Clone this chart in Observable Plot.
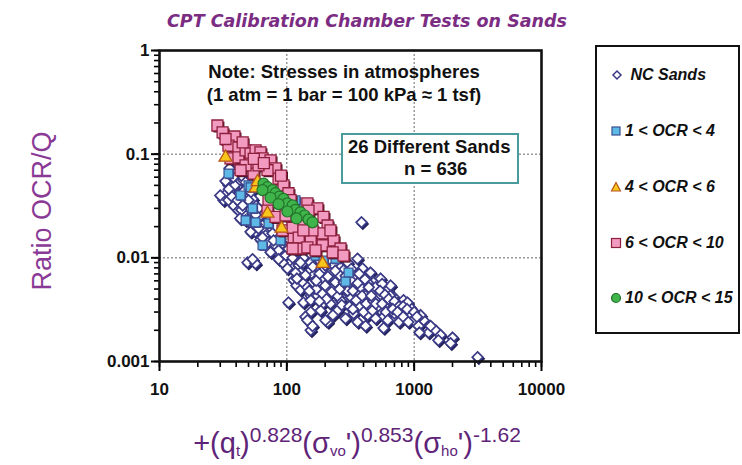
<!DOCTYPE html>
<html>
<head>
<meta charset="utf-8">
<script src="https://cdn.jsdelivr.net/npm/d3@7"></script>
<script src="https://cdn.jsdelivr.net/npm/@observablehq/plot@0.6"></script>
<style>
  body { margin: 0; background: #fff; }
  #wrap { position: relative; width: 742px; height: 465px; overflow: hidden; font-family: "Liberation Sans", Arial, sans-serif; }
  #chart { position: absolute; left: 0; top: 0; }
  .ov { position: absolute; white-space: nowrap; }
  #title { left: 367px; top: 11px; transform: translateX(-50%); font-family: "DejaVu Sans", sans-serif; font-style: italic; font-weight: 600; font-size: 17.5px; color: #7b2d83; letter-spacing: 0px; }
  #ylab { left: 42px; top: 211px; transform: translate(-50%, -50%) rotate(-90deg); font-size: 27px; color: #8a3a96; }
  #xlab { left: 357px; top: 415px; transform: translateX(-50%); font-size: 29px; color: #5e2478; line-height: 40px; }
  #xlab sup { font-size: 21px; vertical-align: 0.5em; }
  #xlab sub { font-size: 15px; vertical-align: -0.2em; }
  #note { left: 344px; top: 60px; transform: translateX(-50%); text-align: center; font-weight: bold; font-size: 18.5px; line-height: 23px; color: #111; }
  #box { left: 341px; top: 133px; width: 174px; height: 47px; border: 2px solid #4a9c9c; background: #fff; font-weight: bold; font-size: 18.5px; line-height: 22px; color: #111; }
  #legend { left: 595px; top: 45px; width: 141px; height: 285px; border: 2px solid #111; background: #fff; }
  .li { position: absolute; left: 16px; font-weight: bold; font-style: italic; font-size: 16px; color: #111; display: flex; align-items: center; }
  .li svg { margin-right: 3px; }
</style>
</head>
<body>
<div id="wrap">
  <div id="chart"></div>
</div>
<script>
// ---- data: [x, OCR/Q] ----
const ncSands = [
  [31.8,0.036],[33.6,0.042],[34.8,0.050],[36.1,0.058],[37.5,0.070],[39.5,0.062],[41.7,0.053],[43.3,0.045],
  [40.3,0.039],[38.1,0.032],[43.3,0.0335],[46.5,0.038],[48.2,0.047],[45.7,0.056],[50.0,0.040],[51.9,0.032],
  [49.1,0.0275],[45.7,0.0268],[53.8,0.0268],[56.8,0.032],[58.9,0.024],[47.4,0.023],[51.9,0.0215],[62.1,0.0256],
  [64.4,0.0205],[41.7,0.0286],[35.5,0.073],[38.8,0.047],[34.8,0.036],[36.1,0.045],[53.8,0.037],
  [33,0.055],[39,0.05],[42,0.041],[37,0.039],[44,0.029],[48,0.034],[55,0.028],[60,0.030],[40,0.066],[46,0.044],[52,0.043],
  [30,0.040],[35,0.046],[41,0.036],[45,0.032],[50,0.036],[57,0.026],[44,0.062],[38,0.060],[43,0.024],[58,0.021],
  [66,0.018],[62,0.015],[70,0.013],[75,0.016],[80,0.0125],[88,0.0108],[95,0.0125],
  [68.0,0.0164],[71.8,0.0141],[77.2,0.0172],[81.5,0.0132],[86.1,0.0118],[74.5,0.0113],[92.5,0.0138],[97.7,0.0105],
  [103,0.0122],[107,0.0090],[111,0.0079],[117,0.0098],[124,0.0084],[128,0.0072],[101,0.0079],[113,0.0061],
  [119,0.0054],[128,0.0049],[135,0.0057],[145,0.0052],[154,0.0043],[135,0.0037],[103,0.0037],[154,0.0030],
  [140,0.0027],[154,0.0020],[159,0.0022],[145,0.0025],[191,0.0036],[209,0.0024],[174,0.0043],
  [49.1,0.0090],[56.8,0.0088],[53.8,0.0097],
  [111,0.0100],[135,0.0090],[174,0.0079],[233,0.0084],[300,0.0090],[359,0.0098],[393,0.0079],[334,0.0068],
  [135,0.0100],[174,0.0098],[438,0.0065],[480,0.0058],[565,0.0051],[689,0.0042],[825,0.0039],[937,0.0033],
  [887,0.0028],[989,0.0025],[1185,0.0025],[1297,0.0019],[1472,0.0020],[2002,0.0017],[1931,0.0015],[3148,0.0011],
  [233,0.0065],[300,0.0057],[317,0.0042],[379,0.0034],[545,0.0031],[618,0.0036],[431,0.0049],[264,0.0039],
  [209,0.0049],[184,0.0057],[233,0.0052],[400,0.0039],[516,0.0042],[740,0.0036],[782,0.0031],[887,0.0037],
  [575,0.0027],[154,0.0076],[194,0.0076],[264,0.0081],[300,0.0071],[359,0.0065],[431,0.0058],[454,0.0034],
  [334,0.0029],[386,0.022],[154,0.0039],[201,0.0025],[184,0.0031],
  [289,0.0049],[359,0.0047],[480,0.0047],[545,0.0044],[618,0.0049],[689,0.0034],[653,0.0054],[545,0.0063],
  [454,0.0072],[289,0.0026],[359,0.0024],[415,0.0022],[575,0.0021],
  [128,0.0090],[154,0.0090],[162,0.0068],[194,0.0063],[220,0.0072],[250,0.0061],[279,0.0076],[317,0.0061],
  [346,0.0052],[393,0.0054],[415,0.0043],[498,0.0052],[596,0.0039],[653,0.0031],[715,0.0026],[498,0.0026],
  [431,0.0028],[220,0.0036],[250,0.0043],[168,0.0061],[140,0.0068],[117,0.0072],[92.5,0.0090],[86.1,0.0097],
  [78.6,0.0147],[64.4,0.0157],[56.8,0.0178],[59.9,0.0192],[51.9,0.0178],[1123,0.0028],[1082,0.0022],
  [1611,0.0018],[1346,0.0022],
  [200,0.0085],[260,0.0068],[300,0.0048],[350,0.0039],[420,0.0036],[480,0.0038],[520,0.0034],[600,0.0030],
  [700,0.0029],[760,0.0024],[850,0.0031],[650,0.0043],[560,0.0056],[250,0.0031],[190,0.0045],[230,0.0028],
  [120,0.0063],[170,0.0050],
  [160,0.0082],[180,0.0070],[210,0.0066],[240,0.0058],[170,0.0060],[200,0.0054],[225,0.0047],[260,0.0050],
  [280,0.0058],[240,0.0075],[205,0.0040],[270,0.0035],[180,0.0038],[150,0.0048],
  [320,0.0078],[370,0.0070],[410,0.0062],[330,0.0048],[380,0.0052],[440,0.0052],[310,0.0034],[390,0.0043],
  [460,0.0043],[330,0.0032],[400,0.0030],[470,0.0031],[500,0.0036],[360,0.0057],[290,0.0067],
  [540,0.0048],[590,0.0044],[630,0.0040],[700,0.0038],[760,0.0034],[820,0.0034],[880,0.0032],[560,0.0036],
  [680,0.0032],[740,0.0030],[820,0.0027],[620,0.0025],[900,0.0024],[1000,0.0030],[1050,0.0027],
  [1100,0.0019],[1550,0.0016]
];
const ocr1to4 = [
  [34.8,0.065],[50.0,0.050],[51.9,0.048],[53.8,0.030],[47.4,0.023],[56.8,0.022],[71.8,0.0215],[89.2,0.0147],
  [117,0.036],[168,0.0105],[194,0.0094],[305,0.0072],[289,0.0059],[64.4,0.0132],[128,0.0147],[43.3,0.040],[241,0.0098]
];
const ocr4to6 = [
  [33.0,0.093],[56.8,0.047],[58.9,0.054],[70.5,0.0268],[90.9,0.0192],[191,0.0088]
];
const ocr6to10 = [
  [28.5,0.189],[31.3,0.162],[38.8,0.148],[34.8,0.121],[41.7,0.116],[36.1,0.091],[41.7,0.093],[47.4,0.109],
  [51.9,0.102],[56.8,0.109],[62.1,0.104],[64.4,0.091],[74.5,0.087],[81.5,0.073],[86.1,0.058],[51.9,0.081],
  [54.8,0.065],[70.5,0.070],[47.4,0.078],[59.9,0.078],[43.3,0.070],[94.2,0.050],[103,0.042],[107,0.036],
  [145,0.0335],[174,0.030],[194,0.0248],[209,0.0205],[191,0.0172],[128,0.0205],[113,0.0157],[154,0.0147],
  [233,0.0147],[191,0.0132],[264,0.0123],[229,0.0113],[128,0.0123],[71.8,0.036],[70.5,0.0286],[81.5,0.0248],
  [92.5,0.0184],[111,0.0195],[124,0.0157],[145,0.0126],[111,0.0123],[148,0.0286],[159,0.0184],[97.7,0.0256],
  [279,0.0105],[168,0.0118],[135,0.0184],[121,0.0268],[220,0.0184],
  [33,0.14],[45,0.13],[55,0.09],[66,0.082],[90,0.062]
];
const ocr10to15 = [
  [65.6,0.052],[70.5,0.048],[77.2,0.045],[81.5,0.042],[87.6,0.039],[94.2,0.037],[101,0.0335],[111,0.032],
  [117,0.029],[128,0.0275],[138,0.0256],[148,0.0235],[159,0.022],[74.5,0.038],[86.1,0.033],[101,0.028],
  [119,0.024],[64.4,0.045]
];
const xTicks = [10, 100, 1000, 10000];
const yTicks = [0.001, 0.01, 0.1, 1];
const xTickLabels = ["10", "100", "1000", "10000"];
const yTickLabels = ["0.001", "0.01", "0.1", "1"];
const legendLabels = ["NC Sands", "1 < OCR < 4", "4 < OCR < 6", "6 < OCR < 10", "10 < OCR < 15"];

const X = d => d[0], Y = d => d[1];
const xMinor = d3.scaleLog().domain([10, 10000]).ticks();
const yMinor = d3.scaleLog().domain([0.001, 1]).ticks();

const chart = Plot.plot({
  width: 742,
  height: 465,
  marginLeft: 159,
  marginRight: 201,
  marginTop: 50,
  marginBottom: 104,
  style: { fontFamily: "'Liberation Sans', Arial, sans-serif", background: "transparent" },
  x: { type: "log", domain: [10, 10000] },
  y: { type: "log", domain: [0.001, 1] },
  marks: [
    Plot.gridX([100, 1000], { stroke: "#666", strokeOpacity: 1, strokeDasharray: "2,2", strokeWidth: 1 }),
    Plot.gridY([0.1, 0.01], { stroke: "#666", strokeOpacity: 1, strokeDasharray: "2,2", strokeWidth: 1 }),
    Plot.axisX({ ticks: xMinor, tickSize: 6, tickFormat: () => "", label: null, strokeWidth: 1.6 }),
    Plot.axisY({ ticks: yMinor, tickSize: 5, tickFormat: () => "", label: null, strokeWidth: 1.6 }),
    Plot.axisX({ ticks: xTicks, tickSize: 10, tickPadding: 11, label: null, strokeWidth: 2,
      tickFormat: d => xTickLabels[xTicks.indexOf(d)], fontSize: 17, fontWeight: "bold", fill: "#111" }),
    Plot.axisY({ ticks: yTicks, tickSize: 8, tickPadding: 2, label: null, strokeWidth: 2,
      tickFormat: d => yTickLabels[yTicks.indexOf(d)], fontSize: 17, fontWeight: "bold", fill: "#111" }),
    // NC sands: hollow diamonds with dark shadow
    Plot.dot(ncSands, { x: X, y: Y, symbol: "diamond2", r: 4.8, fill: "#23225e", stroke: "#23225e", dx: 1.3, dy: 1.6 }),
    Plot.dot(ncSands, { x: X, y: Y, symbol: "diamond2", r: 4.8, fill: "white", stroke: "#3b3a86", strokeWidth: 1.7 }),
    // 1 < OCR < 4
    Plot.dot(ocr1to4, { x: X, y: Y, symbol: "square", r: 5, fill: "#4a4a90", dx: 1.2, dy: 1.2 }),
    Plot.dot(ocr1to4, { x: X, y: Y, symbol: "square", r: 5, fill: "#5fb9e6", stroke: "#3a4f92", strokeWidth: 1.2 }),
    // 6 < OCR < 10
    Plot.dot(ocr6to10, { x: X, y: Y, symbol: "square", r: 6.2, fill: "#4a1020", dx: 1.5, dy: 1.5 }),
    Plot.dot(ocr6to10, { x: X, y: Y, symbol: "square", r: 6.2, fill: "#f29ac0", stroke: "#8e1f3c", strokeWidth: 1.3 }),
    // 4 < OCR < 6
    Plot.dot(ocr4to6, { x: X, y: Y, symbol: "triangle", r: 4.8, fill: "#f7c61a", stroke: "#b8561a", strokeWidth: 1.3 }),
    // 10 < OCR < 15
    Plot.dot(ocr10to15, { x: X, y: Y, symbol: "circle", r: 5.5, fill: "#3fb44a", stroke: "#23742a", strokeWidth: 1.2 }),
    Plot.frame({ stroke: "#111", strokeWidth: 2.6 })
  ]
});
const wrap = document.getElementById("wrap");
document.getElementById("chart").appendChild(chart);

function ov(id, html) {
  const d = document.createElement("div");
  d.className = "ov"; d.id = id; d.innerHTML = html;
  wrap.appendChild(d);
  return d;
}
ov("title", "CPT Calibration Chamber Tests on Sands");
ov("ylab", "Ratio OCR/Q");
ov("xlab", "+(q<sub>t</sub>)<sup>0.828</sup>(σ<sub>vo</sub>')<sup>0.853</sup>(σ<sub>ho</sub>')<sup>-1.62</sup>");
ov("note", "Note: Stresses in atmospheres<br>(1 atm = 1 bar = 100 kPa ≈ 1 tsf)");
ov("box", "<div style='position:absolute;left:5px;top:1px'>26 Different Sands</div><div style='position:absolute;left:61px;top:23px'>n = 636</div>");

const leg = ov("legend", "");
const symbols = [
  "<svg width='12' height='12'><path d='M6 2 L10 6 L6 10 L2 6 Z' fill='white' stroke='#3b3a86' stroke-width='1.5'/></svg>",
  "<svg width='12' height='12'><rect x='2' y='2' width='8' height='8' fill='#5fb9e6' stroke='#3a4f92' stroke-width='1.2'/></svg>",
  "<svg width='12' height='12'><path d='M6 1.5 L10.5 10 L1.5 10 Z' fill='#f7c61a' stroke='#b8561a' stroke-width='1.2'/></svg>",
  "<svg width='12' height='12'><rect x='1.5' y='1.5' width='9' height='9' fill='#f29ac0' stroke='#8e1f3c' stroke-width='1.2'/></svg>",
  "<svg width='12' height='12'><circle cx='6' cy='6' r='4.5' fill='#3fb44a' stroke='#23742a' stroke-width='1.2'/></svg>"
];
const legendTops = [19, 75, 131, 187, 242];
legendLabels.forEach((t, i) => {
  const it = document.createElement("div");
  it.className = "li";
  it.style.top = legendTops[i] + "px";
  it.style.left = (i === 0 ? 14 : 13) + "px";
  it.innerHTML = symbols[i] + (i === 0 ? "&nbsp;" : "") + "<span>" + t + "</span>";
  leg.appendChild(it);
});
</script>
</body>
</html>
